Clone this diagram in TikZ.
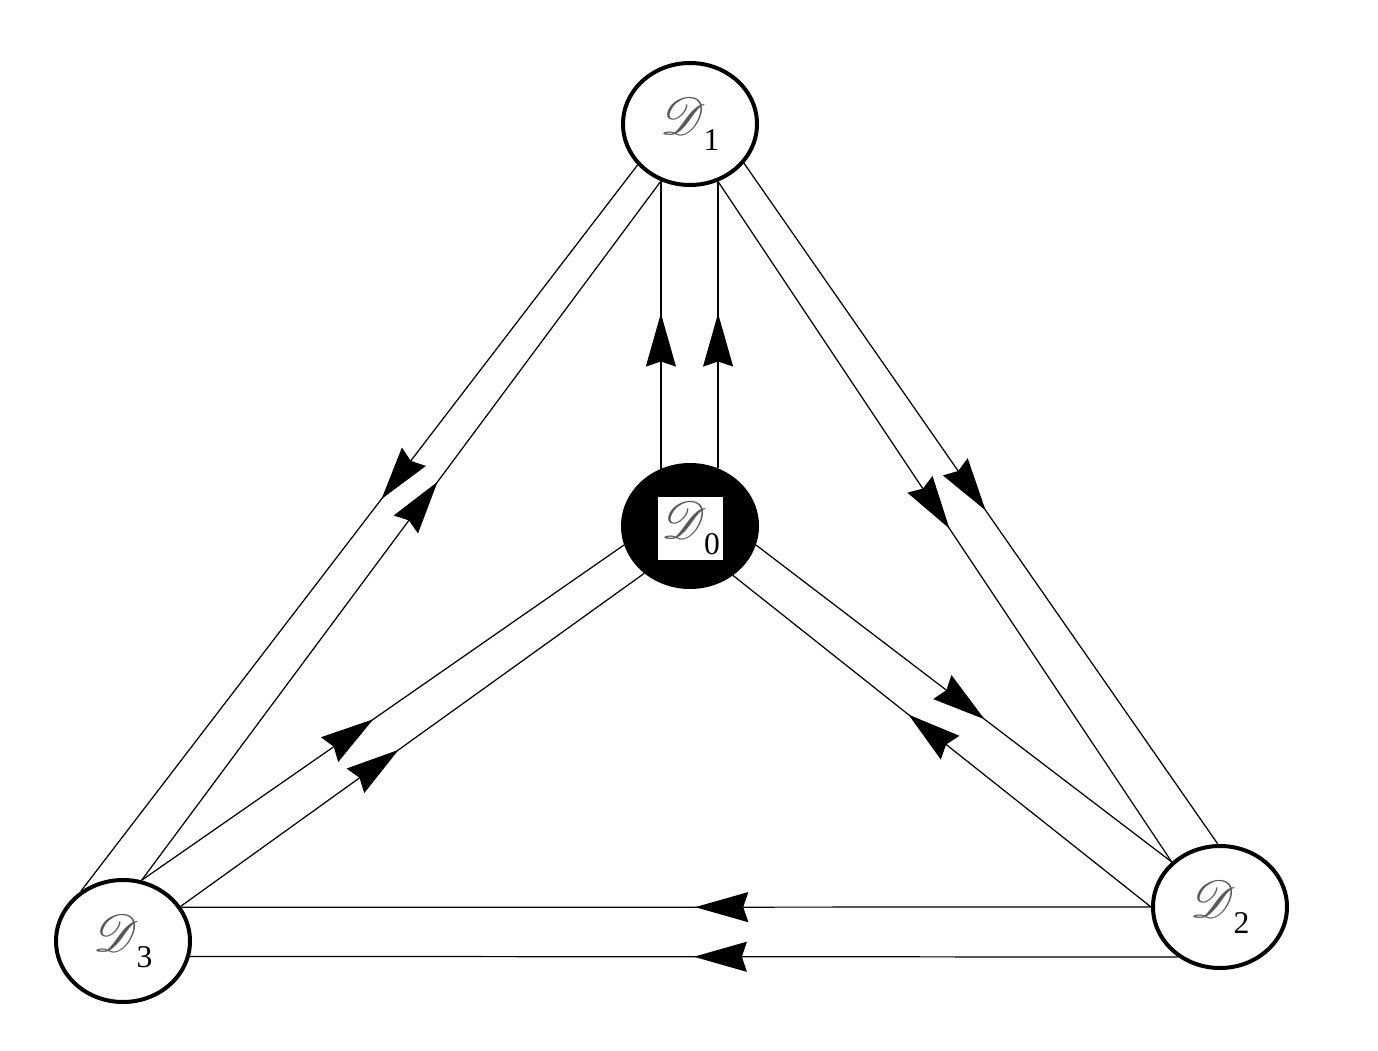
\documentclass[tikz,border=0pt]{standalone}
\usepackage{amsmath,amssymb}
\usepackage{mathrsfs}
\usepackage{graphicx}
\usepackage{xcolor}
\usepackage{fontspec}
\setmainfont{Liberation Serif}
\usepackage{tikz}
\usetikzlibrary{shapes.geometric, arrows.meta, decorations.markings}
\tikzstyle{zone} = [ellipse, 
minimum width=2.68cm, 
minimum height=2.44cm,
line width=0.08cm, 
draw=black, 
fill=white,
font=\fontsize{24}{28}\selectfont]
\tikzstyle{hub} = [zone, fill=black]
\tikzstyle{boxlabel} = [rectangle, 
minimum width=1.3cm, 
minimum height=1.26cm, 
inner sep=0pt, 
fill=white,
font=\fontsize{24}{28}\selectfont]
\tikzstyle{link} = [line width=0.7pt]
\tikzset{flow/.style={link, postaction={decorate},
decoration={markings, mark=at position #1 with {\arrow{Stealth[length=1.06cm, width=0.6cm, inset=0.1cm]}}}}}
\newcommand{\Dlabel}[1]{\scalebox{1.2}{$\textcolor{black!65}{\mathscr{D}}$}\hspace{-1.5pt}\raisebox{-9pt}{\fontsize{18}{20}\selectfont #1}}

\begin{document}
\begin{tikzpicture}
\useasboundingbox (0,0) rectangle (27.56,-21.02);

\node (d1) [zone] at (13.8,-2.48) {\Dlabel{1}};
\node (d0) [hub] at (13.8,-10.52) {};
\node (d0tag) [boxlabel] at (13.81,-10.57) {\Dlabel{0}};
\node (d2) [zone] at (24.4,-18.14) {\Dlabel{2}};
\node (d3) [zone] at (2.46,-18.82) {\Dlabel{3}};

% centre up to the top
\draw [flow=0.54] (d0.117) -- (d1.243);
\draw [flow=0.54] (d0.64) -- (d1.296);
% top down to the right
\draw [flow=0.51] (d1.296) -- (d2.137);
\draw [flow=0.51] (d1.324) -- (d2.92);
% top and left, one each way
\draw [flow=0.46] (d1.218) -- (d3.130);
\draw [flow=0.57] (d3.73) -- (d1.243);
% left up to the centre
\draw [flow=0.48] (d3.73) -- (d0.196);
\draw [flow=0.47] (d3.31) -- (d0.226);
% centre and right, one each way
\draw [flow=0.55] (d0.344) -- (d2.137);
\draw [flow=0.58] (d2.180) -- (d0.311);
% right over to the left
\draw [flow=0.47] (d2.180) -- (d3.30);
\draw [flow=0.49] (d2.230) -- (d3.347);

\end{tikzpicture}
\end{document}
